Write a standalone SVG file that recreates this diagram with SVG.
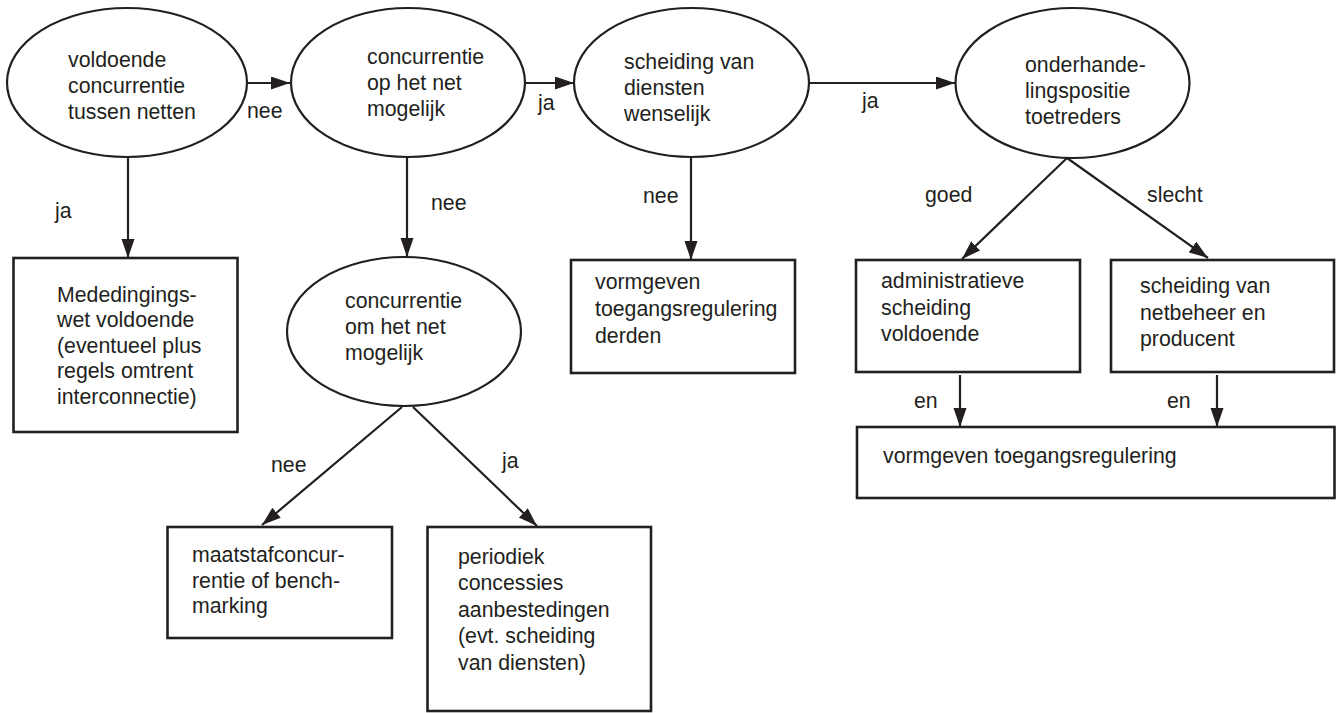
<svg xmlns="http://www.w3.org/2000/svg" width="1336" height="713" viewBox="0 0 1336 713">
<style>
text{font-family:"Liberation Sans",Arial,sans-serif;font-size:21.3px;fill:#231f20}
.n{fill:#fff;stroke:#231f20;stroke-width:2.2}
.b{fill:#fff;stroke:#231f20;stroke-width:2.6}
.c{stroke:#231f20;stroke-width:2.2;fill:none;marker-end:url(#ah)}
</style>
<defs>
<marker id="ah" markerUnits="userSpaceOnUse" markerWidth="20" markerHeight="14" refX="19" refY="6.5" orient="auto">
<path d="M0,0 L19,6.5 L0,13 z" fill="#231f20"/>
</marker>
</defs>
<rect width="1336" height="713" fill="#fff"/>
<g id="connectors">
<line class="c" x1="247" y1="83" x2="290" y2="83"/>
<line class="c" x1="524" y1="83" x2="574" y2="83"/>
<line class="c" x1="809" y1="83" x2="955" y2="83"/>
<line class="c" x1="128" y1="157" x2="128" y2="258"/>
<line class="c" x1="407" y1="157" x2="407" y2="257"/>
<line class="c" x1="691" y1="157" x2="691" y2="260"/>
<line class="c" x1="402" y1="407" x2="262" y2="525"/>
<line class="c" x1="413" y1="407" x2="537" y2="526"/>
<line class="c" x1="1067" y1="158" x2="962" y2="259"/>
<line class="c" x1="1067" y1="158" x2="1208" y2="258"/>
<line class="c" x1="960" y1="375" x2="960" y2="427"/>
<line class="c" x1="1217" y1="375" x2="1217" y2="427"/>
<text x="247" y="118">nee</text>
<text x="538" y="110">ja</text>
<text x="862" y="108">ja</text>
<text x="55" y="218">ja</text>
<text x="431" y="210">nee</text>
<text x="643" y="203">nee</text>
<text x="271" y="472">nee</text>
<text x="502" y="468">ja</text>
<text x="925" y="202">goed</text>
<text x="1147" y="202">slecht</text>
<text x="914" y="408">en</text>
<text x="1167" y="408">en</text>
</g>
<g id="n1">
<ellipse class="n" cx="127" cy="82.5" rx="120" ry="74.5"/>
<text x="68" y="67">voldoende</text>
<text x="68" y="93">concurrentie</text>
<text x="68" y="119">tussen netten</text>
</g>
<g id="n2">
<ellipse class="n" cx="408" cy="82.5" rx="117" ry="74.5"/>
<text x="367" y="64">concurrentie</text>
<text x="367" y="90">op het net</text>
<text x="367" y="116">mogelijk</text>
</g>
<g id="n3">
<ellipse class="n" cx="691.5" cy="82.5" rx="117.5" ry="74.5"/>
<text x="624" y="69">scheiding van</text>
<text x="624" y="95">diensten</text>
<text x="624" y="121">wenselijk</text>
</g>
<g id="n4">
<ellipse class="n" cx="1072.5" cy="83" rx="117" ry="75"/>
<text x="1025" y="72">onderhande-</text>
<text x="1025" y="98">lingspositie</text>
<text x="1025" y="124">toetreders</text>
</g>
<g id="n5">
<rect class="b" x="13.5" y="258" width="224" height="174"/>
<text x="57" y="302">Mededingings-</text>
<text x="57" y="327">wet voldoende</text>
<text x="57" y="353">(eventueel plus</text>
<text x="57" y="378">regels omtrent</text>
<text x="57" y="404">interconnectie)</text>
</g>
<g id="n6">
<ellipse class="n" cx="404" cy="331.5" rx="117" ry="74.5"/>
<text x="345" y="308">concurrentie</text>
<text x="345" y="334">om het net</text>
<text x="345" y="360">mogelijk</text>
</g>
<g id="n7">
<rect class="b" x="571" y="260" width="224" height="113"/>
<text x="595" y="289">vormgeven</text>
<text x="595" y="316">toegangsregulering</text>
<text x="595" y="343">derden</text>
</g>
<g id="n8">
<rect class="b" x="167.5" y="527" width="224.5" height="111"/>
<text x="192" y="562">maatstafconcur-</text>
<text x="192" y="588">rentie of bench-</text>
<text x="192" y="613">marking</text>
</g>
<g id="n9">
<rect class="b" x="427.5" y="527" width="223.5" height="184"/>
<text x="458" y="564">periodiek</text>
<text x="458" y="590">concessies</text>
<text x="458" y="617">aanbestedingen</text>
<text x="458" y="643">(evt. scheiding</text>
<text x="458" y="670">van diensten)</text>
</g>
<g id="n10">
<rect class="b" x="856" y="260" width="224" height="112"/>
<text x="881" y="288">administratieve</text>
<text x="881" y="315">scheiding</text>
<text x="881" y="341">voldoende</text>
</g>
<g id="n11">
<rect class="b" x="1111" y="260" width="223" height="112"/>
<text x="1140" y="293">scheiding van</text>
<text x="1140" y="320">netbeheer en</text>
<text x="1140" y="346">producent</text>
</g>
<g id="n12">
<rect class="b" x="857" y="427" width="477.5" height="71"/>
<text x="883" y="463">vormgeven toegangsregulering</text>
</g>
</svg>
